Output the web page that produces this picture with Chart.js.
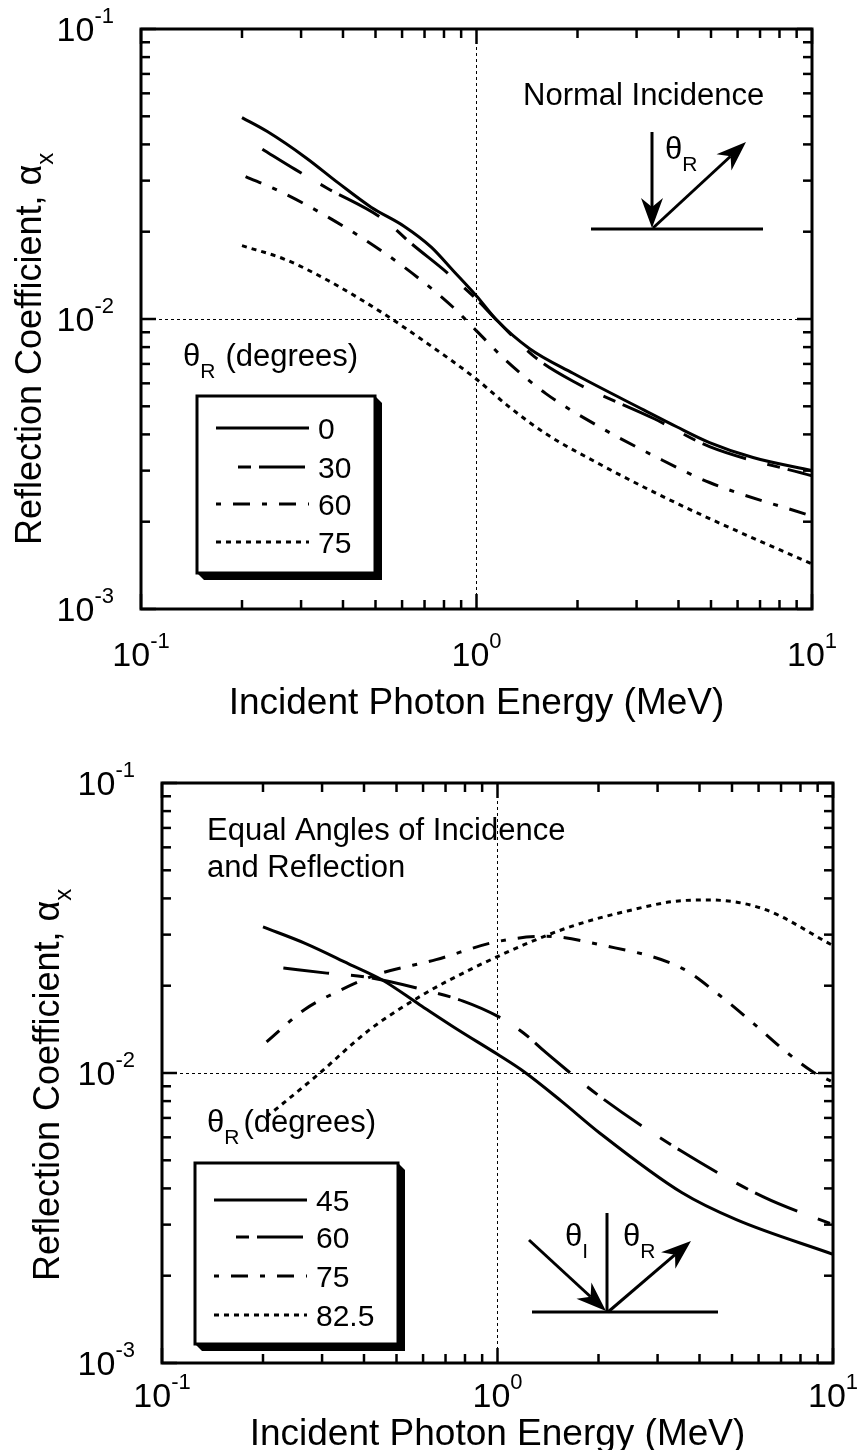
<!DOCTYPE html>
<html>
<head>
<meta charset="utf-8">
<script src="https://cdn.jsdelivr.net/npm/chart.js@4"></script>
<style>
  body { margin: 0; background: #fff; }
  canvas { position: absolute; left: 0; }
</style>
</head>
<body>
<canvas id="topChart" width="857" height="725" style="top:0"></canvas>
<canvas id="bottomChart" width="857" height="725" style="top:725px"></canvas>
<script>
// axis ranges
const xMin = 0.1, xMax = 10;
const yMin = 0.001, yMax = 0.1;

// top panel - normal incidence, theta_R in degrees
const topLabels = ["0", "30", "60", "75"];
const eTop0 = [0.2, 0.238, 0.31, 0.388, 0.485, 0.608, 0.733, 0.851, 1.0, 1.15, 1.44, 1.94, 3.16, 3.95, 4.95, 6.67, 10];
const aTop0 = [0.0495, 0.0443, 0.036, 0.0294, 0.0243, 0.0209, 0.0177, 0.0147, 0.012, 0.0099, 0.0079, 0.0065, 0.00485, 0.00425, 0.00375, 0.00333, 0.003];
const eTop30 = [0.23, 0.288, 0.36, 0.524, 0.643, 0.82, 1.0, 1.15, 1.49, 1.94, 3.4, 4.95, 10];
const aTop30 = [0.0385, 0.0328, 0.0282, 0.0222, 0.0181, 0.0144, 0.0117, 0.0099, 0.0074, 0.0061, 0.00452, 0.00363, 0.00288];
const eTop60 = [0.205, 0.257, 0.36, 0.524, 0.707, 0.85, 1.0, 1.24, 1.61, 2.34, 3.4, 4.95, 10];
const aTop60 = [0.031, 0.0277, 0.0225, 0.0171, 0.0132, 0.011, 0.0091, 0.0071, 0.00553, 0.00423, 0.00336, 0.00273, 0.00209];
const eTop75 = [0.2, 0.267, 0.36, 0.524, 0.707, 1.0, 1.24, 1.61, 2.34, 3.4, 4.95, 10];
const aTop75 = [0.0179, 0.0161, 0.0136, 0.0105, 0.0083, 0.0062, 0.00502, 0.00402, 0.00315, 0.00252, 0.00205, 0.00143];

// bottom panel - equal angles of incidence and reflection
const botLabels = ["45", "60", "75", "82.5"];
const eBot45 = [0.2, 0.267, 0.36, 0.451, 0.586, 0.762, 1.0, 1.2, 1.55, 2.02, 3.54, 5.15, 10];
const aBot45 = [0.0319, 0.028, 0.0238, 0.021, 0.0172, 0.0141, 0.0116, 0.0101, 0.008, 0.0062, 0.00387, 0.00312, 0.00237];
const eBot60 = [0.23, 0.31, 0.419, 0.609, 0.79, 1.0, 1.19, 1.39, 2.02, 3.54, 6.2, 10];
const aBot60 = [0.023, 0.0221, 0.0213, 0.0193, 0.0177, 0.0157, 0.0138, 0.0118, 0.0083, 0.00537, 0.00374, 0.003];
const eBot75 = [0.205, 0.267, 0.334, 0.435, 0.656, 1.0, 1.39, 2.02, 3.54, 4.6, 5.76, 7.2, 8.7, 10];
const aBot75 = [0.0128, 0.0166, 0.0191, 0.0218, 0.0246, 0.0284, 0.0296, 0.0277, 0.023, 0.0185, 0.0149, 0.0119, 0.0101, 0.0093];
const eBot82 = [0.205, 0.288, 0.419, 0.608, 0.82, 1.0, 1.2, 1.67, 2.44, 3.54, 4.27, 6.2, 10];
const aBot82 = [0.00706, 0.00975, 0.0142, 0.0188, 0.0226, 0.0252, 0.0277, 0.0321, 0.0362, 0.0393, 0.0395, 0.0368, 0.0275];

// line styles, one per series
const dashes = [[], [46, 22, 13, 8], [17, 12, 5, 12], [5, 5]];
const legendOffset = [0, 46, 29, 0];

const FONT = "'Liberation Sans', Arial, sans-serif";

function logTicks(min, max) {
  const out = [];
  for (let k = Math.round(Math.log10(min)); k < Math.round(Math.log10(max)); k++) {
    for (let m = 1; m < 10; m++) out.push(m * Math.pow(10, k));
  }
  out.push(max);
  return out;
}
const isDecade = v => Math.abs(Math.log10(v) - Math.round(Math.log10(v))) < 1e-9;

function line(ctx, x1, y1, x2, y2) {
  ctx.beginPath(); ctx.moveTo(x1, y1); ctx.lineTo(x2, y2); ctx.stroke();
}

function arrow(ctx, x1, y1, x2, y2) {
  const ang = Math.atan2(y2 - y1, x2 - x1);
  const L = 30, W = 11, N = 21;
  const bx = x2 - Math.cos(ang) * N, by = y2 - Math.sin(ang) * N;
  line(ctx, x1, y1, bx, by);
  ctx.beginPath();
  ctx.moveTo(x2, y2);
  ctx.lineTo(x2 - Math.cos(ang) * L - Math.sin(ang) * W, y2 - Math.sin(ang) * L + Math.cos(ang) * W);
  ctx.lineTo(bx, by);
  ctx.lineTo(x2 - Math.cos(ang) * L + Math.sin(ang) * W, y2 - Math.sin(ang) * L - Math.cos(ang) * W);
  ctx.closePath();
  ctx.fill();
}

// "10" with a raised exponent
function pow10(ctx, x, base, exp, align) {
  ctx.font = "34px " + FONT;
  const w1 = ctx.measureText("10").width;
  ctx.font = "22px " + FONT;
  const w2 = ctx.measureText(exp).width;
  const x0 = align === "right" ? x - w1 - w2 : x - (w1 + w2) / 2;
  ctx.textAlign = "left";
  ctx.font = "34px " + FONT;
  ctx.fillText("10", x0, base);
  ctx.font = "22px " + FONT;
  ctx.fillText(exp, x0 + w1, base - 18);
}

// text with subscript, e.g. theta_R
function subText(ctx, x, base, main, sub, size) {
  ctx.textAlign = "left";
  ctx.font = size + "px " + FONT;
  ctx.fillText(main, x, base);
  const w = ctx.measureText(main).width;
  ctx.font = Math.round(size * 0.68) + "px " + FONT;
  ctx.fillText(sub, x + w, base + 12);
  return x + w + ctx.measureText(sub).width;
}

const framePlugin = {
  id: "frame",
  afterDraw(chart, args, o) {
    const ctx = chart.ctx, a = chart.chartArea;
    const xs = chart.scales.x, ys = chart.scales.y;
    ctx.save();
    ctx.strokeStyle = "#000";
    ctx.fillStyle = "#000";
    ctx.textBaseline = "alphabetic";

    // inward ticks on all four sides
    ctx.lineWidth = 2.5;
    logTicks(xMin, xMax).forEach(v => {
      const p = xs.getPixelForValue(v), len = isDecade(v) ? 15 : 9;
      line(ctx, p, a.bottom, p, a.bottom - len);
      line(ctx, p, a.top, p, a.top + len);
    });
    logTicks(yMin, yMax).forEach(v => {
      const p = ys.getPixelForValue(v), len = isDecade(v) ? 15 : 9;
      line(ctx, a.left, p, a.left + len, p);
      line(ctx, a.right, p, a.right - len, p);
    });
    ctx.lineWidth = 3;
    ctx.strokeRect(a.left, a.top, a.right - a.left, a.bottom - a.top);

    // tick labels
    [0.1, 1, 10].forEach(v => {
      pow10(ctx, xs.getPixelForValue(v), a.bottom + o.xLabelDy, String(Math.round(Math.log10(v))), "center");
    });
    [0.001, 0.01, 0.1].forEach(v => {
      pow10(ctx, a.left - 27, ys.getPixelForValue(v) + 12, String(Math.round(Math.log10(v))), "right");
    });

    // axis titles
    ctx.font = "37px " + FONT;
    ctx.textAlign = "center";
    ctx.fillText("Incident Photon Energy (MeV)", (a.left + a.right) / 2, o.xTitleY);
    ctx.save();
    ctx.translate(o.yTitleX, o.yTitleY);
    ctx.rotate(-Math.PI / 2);
    subText(ctx, 0, 0, "Reflection Coefficient, \u03b1", "x", 36);
    ctx.restore();

    // annotation text
    ctx.font = "31px " + FONT;
    ctx.textAlign = "left";
    o.notes.forEach(n => ctx.fillText(n[0], n[1], n[2]));
    const t = o.thetaR;
    const after = subText(ctx, t[0], t[1], "\u03b8", "R", 31);
    ctx.font = "31px " + FONT;
    ctx.fillText("(degrees)", after + t[2], t[1]);

    // legend box with drop shadow
    const b = o.box;
    ctx.beginPath();
    ctx.moveTo(b.r, b.t);
    ctx.lineTo(b.r + 7, b.t + 7);
    ctx.lineTo(b.r + 7, b.b + 7);
    ctx.lineTo(b.l + 7, b.b + 7);
    ctx.lineTo(b.l, b.b);
    ctx.closePath();
    ctx.fill();
    ctx.fillStyle = "#fff";
    ctx.fillRect(b.l, b.t, b.r - b.l, b.b - b.t);
    ctx.fillStyle = "#000";
    ctx.lineWidth = 3;
    ctx.strokeRect(b.l, b.t, b.r - b.l, b.b - b.t);
    chart.data.datasets.forEach((ds, i) => {
      const y = b.rows[i];
      ctx.lineWidth = 3;
      ctx.setLineDash(ds.borderDash);
      ctx.lineDashOffset = legendOffset[i];
      line(ctx, b.l + 19, y, b.l + 112, y);
      ctx.setLineDash([]);
      ctx.lineDashOffset = 0;
      ctx.font = "30px " + FONT;
      ctx.fillText(ds.label, b.l + 121, y + 11);
    });

    // incidence sketch
    ctx.lineWidth = 3;
    const d = o.sketch;
    line(ctx, d.floor[0], d.floor[1], d.floor[2], d.floor[1]);
    d.lines.forEach(s => line(ctx, s[0], s[1], s[2], s[3]));
    d.arrows.forEach(s => arrow(ctx, s[0], s[1], s[2], s[3]));
    d.labels.forEach(s => subText(ctx, s[0], s[1], "\u03b8", s[2], 31));
    ctx.restore();
  }
};

function makePanel(id, labels, es, as, cfg) {
  return new Chart(document.getElementById(id), {
    type: "line",
    data: {
      datasets: labels.map((lab, i) => ({
        label: lab,
        data: es[i].map((x, j) => ({ x: x, y: as[i][j] })),
        borderColor: "#000",
        borderWidth: 3,
        borderDash: dashes[i],
        pointRadius: 0,
        fill: false,
        cubicInterpolationMode: "monotone"
      }))
    },
    options: {
      responsive: false,
      animation: false,
      devicePixelRatio: 1,
      layout: { padding: { top: cfg.padTop, right: cfg.padRight, left: 0, bottom: 0 } },
      plugins: { legend: { display: false }, tooltip: { enabled: false }, frame: cfg },
      scales: {
        x: {
          type: "logarithmic", min: xMin, max: xMax,
          afterBuildTicks: s => { s.ticks = logTicks(xMin, xMax).map(v => ({ value: v })); },
          afterFit: s => { s.height = cfg.xAxisH; },
          ticks: { display: false },
          grid: { drawTicks: false, lineWidth: 1, color: c => (c.tick && Math.abs(c.tick.value - 1) < 1e-9) ? "#000" : "rgba(0,0,0,0)" },
          border: { display: false, dash: [3, 3] }
        },
        y: {
          type: "logarithmic", min: yMin, max: yMax,
          afterBuildTicks: s => { s.ticks = logTicks(yMin, yMax).map(v => ({ value: v })); },
          afterFit: s => { s.width = cfg.yAxisW; },
          ticks: { display: false },
          grid: { drawTicks: false, lineWidth: 1, color: c => (c.tick && Math.abs(c.tick.value - 0.01) < 1e-12) ? "#000" : "rgba(0,0,0,0)" },
          border: { display: false, dash: [3, 3] }
        }
      }
    },
    plugins: [framePlugin]
  });
}

makePanel("topChart", topLabels,
  [eTop0, eTop30, eTop60, eTop75], [aTop0, aTop30, aTop60, aTop75], {
    padTop: 29, padRight: 45, yAxisW: 141, xAxisH: 116,
    xLabelDy: 57, xTitleY: 714, yTitleX: 41, yTitleY: 545,
    notes: [["Normal Incidence", 523, 105]],
    thetaR: [183, 366, 10],
    box: { l: 197, t: 396, r: 375, b: 573, rows: [428, 467, 504, 542] },
    sketch: {
      floor: [591, 229, 763],
      lines: [],
      arrows: [[652, 132, 652, 228], [653, 228, 746, 142]],
      labels: [[665, 159, "R"]]
    }
  });

makePanel("bottomChart", botLabels,
  [eBot45, eBot60, eBot75, eBot82], [aBot45, aBot60, aBot75, aBot82], {
    padTop: 58, padRight: 24, yAxisW: 162, xAxisH: 87,
    xLabelDy: 44, xTitleY: 720, yTitleX: 59, yTitleY: 556,
    notes: [["Equal Angles of Incidence", 207, 115], ["and Reflection", 207, 152]],
    thetaR: [207, 407, 4],
    box: { l: 195, t: 438, r: 398, b: 619, rows: [475, 512, 551, 590] },
    sketch: {
      floor: [532, 587, 718],
      lines: [[607, 488, 607, 587]],
      arrows: [[529, 515, 606, 586], [608, 587, 691, 516]],
      labels: [[565, 521, "I"], [623, 521, "R"]]
    }
  });
</script>
</body>
</html>
